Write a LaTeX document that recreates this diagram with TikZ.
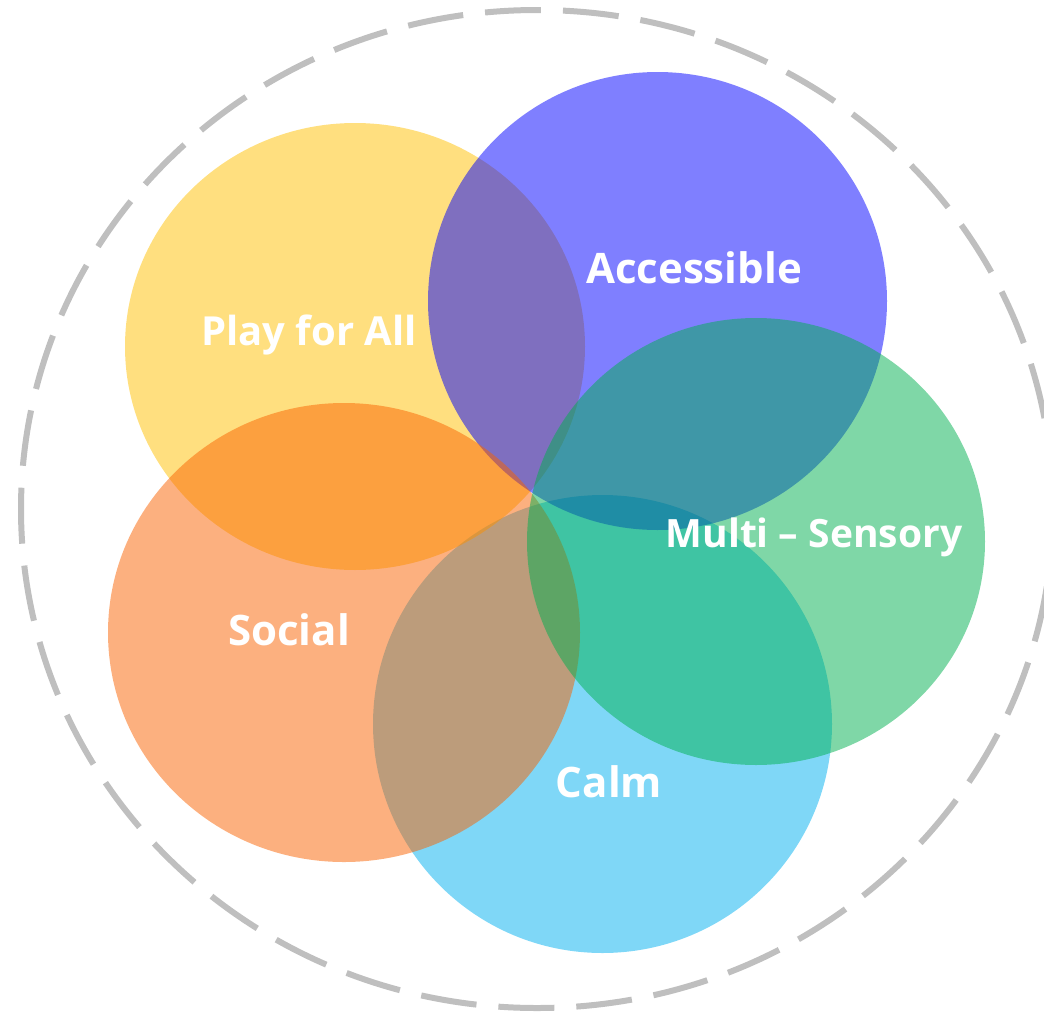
\documentclass[tikz,border=0pt]{standalone}
\usepackage{fontspec}
\usepackage{xcolor}
\usepackage{tikz}
\newfontfamily\lblfont{Open Sans}[Ligatures=TeX]

\definecolor{playyellow}{RGB}{255,192,0}
\definecolor{accblue}{RGB}{0,0,255}
\definecolor{socorange}{RGB}{250,98,0}
\definecolor{sensgreen}{RGB}{0,176,80}
\definecolor{calmblue}{RGB}{0,176,240}
\definecolor{ringgrey}{RGB}{191,191,191}

\tikzset{
  petal/.style={fill opacity=0.5},
  petallabel/.style={text=white, anchor=base, inner sep=0pt,
    font=\lblfont\bfseries\fontsize{#1}{50}\selectfont},
  petallabel/.default=42,
}

\begin{document}
\begin{tikzpicture}[x=1pt,y=1pt,yscale=-1,xscale=1]
\useasboundingbox (0,0) rectangle (1044,1012);

%Dashed outer ring
\draw [color=ringgrey, line width=6pt, dash pattern=on 56pt off 22pt] (537,509) ellipse (516 and 499);

%Shape: Ellipse (Calm)
\fill [petal, calmblue] (602.5,724) ellipse (229.5 and 229);
%Shape: Ellipse (Play for All)
\fill [petal, playyellow] (355,346.5) ellipse (230 and 223.5);
%Shape: Ellipse (Accessible)
\fill [petal, accblue] (657.5,301) ellipse (229.5 and 229);
%Shape: Ellipse (Social)
\fill [petal, socorange] (344,632.5) ellipse (236 and 229.5);
%Shape: Ellipse (Multi - Sensory)
\fill [petal, sensgreen] (756,541.5) ellipse (229 and 223.5);

% Text Node
\node (play) at (309,345) [petallabel=40] {Play for All};
% Text Node
\node (access) at (694,283) [petallabel] {Accessible};
% Text Node
\node (sensory) at (814,547) [petallabel=39] {Multi – Sensory};
% Text Node
\node (social) at (289,645) [petallabel] {Social};
% Text Node
\node (calm) at (609,797) [petallabel] {Calm};

\end{tikzpicture}
\end{document}
